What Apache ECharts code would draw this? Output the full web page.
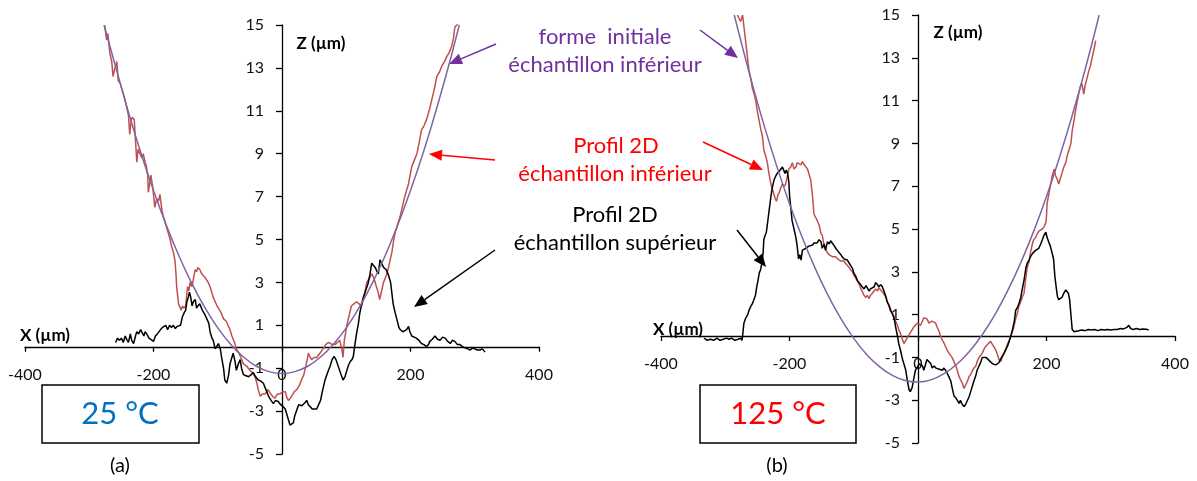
<!DOCTYPE html>
<html>
<head>
<meta charset="utf-8">
<script src="https://cdn.jsdelivr.net/npm/echarts@6/dist/echarts.min.js"></script>
<style>html,body{margin:0;padding:0;background:#fff;}#c{width:1197px;height:481px;}</style>
</head>
<body>
<div id="c"></div>
<script>
// ---------- data (x in µm, z in µm) ----------
const xTicks = [-400, -200, 0, 200, 400];
const zTicks = [-5, -3, -1, 1, 3, 5, 7, 9, 11, 13, 15];

// (a) 25 °C
const leftInitial = [[-277,15.0],[-260,13.17],[-240,11.04],[-220,9.07],[-200,7.28],[-180,5.66],[-160,4.21],[-140,2.93],[-120,1.82],[-100,0.88],[-80,0.12],[-60,-0.48],[-40,-0.91],[-20,-1.16],[0,-1.25],[20,-1.16],[40,-0.91],[60,-0.48],[80,0.12],[100,0.88],[120,1.82],[140,2.93],[160,4.21],[180,5.66],[200,7.28],[220,9.07],[240,11.04],[260,13.17],[276,15.0]];
const leftLower = [[-276,15.0],[-273,14.3],[-271,14.6],[-268,13.7],[-265,13.3],[-263,12.6],[-260,13.0],[-257,13.3],[-255,12.4],[-252,12.3],[-250,12.1],[-246,11.7],[-242,11.2],[-239,10.8],[-237,9.9],[-235,10.5],[-233,10.7],[-230,10.6],[-228,9.6],[-226,8.6],[-224,9.2],[-221,9.2],[-218,8.8],[-216,9.0],[-213,8.6],[-211,8.4],[-209,8.0],[-208,7.2],[-206,7.6],[-204,8.0],[-201,7.4],[-198,6.5],[-195,6.9],[-192,6.8],[-190,7.1],[-187,6.4],[-185,6.1],[-182,5.8],[-179,5.5],[-177,5.3],[-174,5.0],[-172,4.7],[-169,4.4],[-166.5,4.0],[-165,3.4],[-164,2.8],[-161,2.0],[-157,1.7],[-155,1.9],[-153,1.8],[-150,1.9],[-147,2.8],[-145,2.6],[-143,3.0],[-140,2.8],[-137,3.3],[-135,3.6],[-133,3.5],[-131,3.7],[-128,3.6],[-125,3.4],[-122,3.3],[-119,3.2],[-115,3.0],[-112,2.8],[-109,2.5],[-107,2.3],[-104,2.1],[-101,1.9],[-99,1.8],[-95,1.6],[-91,1.3],[-87,1.2],[-84,1.0],[-81,0.8],[-78,0.5],[-74,0.2],[-71,-0.1],[-67,-0.3],[-64,-0.5],[-60,-0.8],[-55,-0.9],[-50,-1.1],[-46,-1.2],[-42,-1.4],[-39,-1.7],[-37,-2.0],[-34,-2.3],[-30,-2.2],[-26,-2.2],[-22,-2.0],[-19,-2.0],[-15,-2.3],[-11,-2.4],[-7,-2.2],[-3,-2.2],[1,-2.1],[5,-2.1],[8,-2.4],[10,-2.5],[13,-2.4],[15,-2.3],[19,-2.1],[23,-2.0],[27,-1.8],[31,-1.5],[34,-1.3],[37,-0.9],[40,-0.5],[41,-0.3],[44,-0.5],[46,-0.6],[50,-0.5],[54,-0.5],[59,-0.3],[64,-0.1],[68,0.1],[72,0.2],[75,0.2],[79,0.1],[83,0.1],[86,0.2],[90,0.3],[93,-0.1],[95,-0.5],[97,0.3],[101,1.0],[104,1.4],[108,1.9],[112,2.0],[116,2.1],[120,2.0],[124,1.9],[128,2.4],[132,3.0],[136,3.2],[140,3.4],[144,3.1],[147,2.8],[150,2.5],[152,2.2],[155,2.6],[158,3.0],[162,3.3],[165,3.6],[168,4.0],[171,4.4],[174,5.0],[176,5.3],[180,5.7],[184,6.1],[188,6.6],[191,7.0],[194,7.3],[197,7.6],[200,8.1],[202,8.4],[206,8.7],[210,9.0],[214,9.6],[217,10.1],[221,10.3],[225,10.6],[229,11.0],[233,11.5],[237,12.0],[241,12.6],[245,12.8],[249,13.1],[253,13.3],[256,13.5],[260,13.7],[264,14.0],[267,14.4],[269,14.9],[272,15.0],[275,15.1]];
const leftUpper = [[-259,0.2],[-256,0.4],[-253,0.3],[-250,0.4],[-247,0.2],[-244,0.5],[-241,0.3],[-239,0.2],[-236,0.6],[-234,0.3],[-231,0.15],[-228,0.5],[-226,0.7],[-223,0.6],[-220,0.8],[-218,0.75],[-215,0.5],[-213,0.7],[-210.6,0.6],[-207,0.4],[-204,0.35],[-200,0.25],[-197,0.5],[-194,0.6],[-192,0.6],[-189,0.8],[-186,0.9],[-184,0.9],[-181,1.0],[-178,0.8],[-175,1.0],[-172,0.9],[-169,1.0],[-166,0.85],[-163,0.95],[-160,0.9],[-158,1.0],[-155,1.4],[-152,1.6],[-150,1.7],[-148,2.1],[-146,2.3],[-144,2.55],[-142,2.3],[-140,1.9],[-138,2.1],[-135,2.2],[-133,1.8],[-131,1.9],[-128,2.0],[-126,2.0],[-124,1.7],[-122,1.6],[-120,1.5],[-117,1.5],[-114,1.1],[-112,0.7],[-109,0.4],[-107,0.3],[-104,-0.1],[-101,-0.1],[-99,0.15],[-96,-0.1],[-94,-0.5],[-91,-1.0],[-89,-1.55],[-86,-1.7],[-83,-1.3],[-81,-0.8],[-78,-0.5],[-76,-0.3],[-73,-0.7],[-71,-1.1],[-68,-0.8],[-65,-0.6],[-63,-1.0],[-60,-1.3],[-56,-1.35],[-52,-1.4],[-48,-1.3],[-45,-1.2],[-41,-1.4],[-37,-1.55],[-33,-1.6],[-29,-1.7],[-25,-2.0],[-21,-2.3],[-17,-2.5],[-13.5,-2.65],[-10,-2.5],[-6,-2.55],[-2,-2.7],[2,-2.8],[5,-2.9],[7,-3.1],[10,-3.4],[12.5,-3.65],[15,-3.7],[17.6,-3.55],[20,-3.2],[23,-2.95],[26,-2.7],[28,-2.65],[31,-2.75],[33,-2.8],[36,-2.6],[38.5,-2.5],[41,-2.7],[44,-2.8],[47,-2.9],[50,-2.95],[54,-2.9],[57,-2.95],[60,-2.5],[62,-2.2],[65,-1.8],[67,-1.55],[71,-1.2],[75,-0.9],[78,-0.6],[81,-0.45],[84,-0.6],[88,-0.95],[92,-1.3],[95,-1.55],[98,-1.4],[101,-1.1],[103,-0.9],[106,-0.7],[109,-0.6],[111,-0.45],[114,0.2],[116,0.6],[119,1.1],[121,1.55],[124,2.0],[126.5,2.3],[130,2.6],[134,2.95],[137,3.4],[139.6,3.9],[142,3.8],[145,3.7],[148,3.5],[150,3.4],[152.5,4.05],[155,3.9],[158,3.7],[162,3.6],[165,3.4],[169,3.0],[171,2.5],[173,2.0],[176,1.6],[179,1.25],[182,0.9],[184,0.8],[188,0.7],[191,0.7],[194,0.8],[197,0.95],[199,0.7],[202,0.5],[205,0.45],[209,0.4],[213,0.3],[217,0.15],[221,0.1],[225,0.0],[228,0.1],[230,0.25],[234,0.35],[238,0.5],[242,0.35],[246,0.3],[250,0.45],[254,0.4],[258,0.25],[262,0.15],[265,0.3],[269,0.25],[273,0.1],[277,0.1],[281,0.0],[285,-0.05],[289,-0.1],[293,-0.15],[297,-0.05],[300,-0.1],[304,-0.15],[308,-0.15],[312,-0.1],[316,-0.25]];

// (b) 125 °C
const rightInitial = [[-286,15.0],[-260,12.0],[-240,9.89],[-220,7.95],[-200,6.18],[-180,4.59],[-160,3.16],[-140,1.90],[-120,0.81],[-100,-0.11],[-80,-0.86],[-60,-1.43],[-40,-1.84],[-20,-2.08],[0,-2.15],[20,-2.05],[40,-1.77],[60,-1.33],[80,-0.72],[100,0.06],[120,1.01],[140,2.14],[160,3.43],[180,4.89],[200,6.52],[220,8.33],[240,10.30],[260,12.44],[282,15.0]];
const rightLower = [[-281,15.0],[-278,14.8],[-276,14.7],[-273,15.0],[-271,15.0],[-268,13.7],[-265,12.9],[-263,12.4],[-260,12.0],[-258,11.6],[-255,11.3],[-252.6,11.0],[-250,10.5],[-247.5,10.1],[-245,9.7],[-242,9.3],[-240,8.7],[-237,8.4],[-234.5,8.1],[-232,7.6],[-229,7.1],[-226,6.8],[-224,6.6],[-222,6.4],[-220,6.3],[-218,6.6],[-216,6.7],[-214,6.9],[-211,7.1],[-208,7.0],[-206,7.1],[-203,7.5],[-201,7.8],[-198,7.9],[-195.6,8.1],[-193,7.8],[-190,7.9],[-188,8.1],[-185,8.1],[-182,8.0],[-180,8.15],[-177,8.0],[-175,7.95],[-172,7.8],[-169,7.5],[-167,7.3],[-164,6.5],[-162,5.7],[-159,5.7],[-157,5.4],[-154,5.2],[-151,4.8],[-149,4.7],[-146,4.2],[-143,4.2],[-141,3.9],[-138.5,3.8],[-136,3.8],[-133,3.7],[-131,3.7],[-128,3.7],[-125,3.6],[-123,3.55],[-120,3.5],[-118,3.45],[-115,3.5],[-113,3.4],[-110,3.3],[-107,3.2],[-105,3.1],[-102,3.0],[-100,2.85],[-97,2.7],[-95,2.6],[-92,2.45],[-89,2.2],[-87,2.1],[-84,1.9],[-81,1.8],[-79,1.9],[-76,1.75],[-74,1.9],[-71,2.0],[-68.5,2.0],[-66,2.2],[-63,2.1],[-61,2.25],[-58,2.2],[-55,2.05],[-53,2.0],[-50,1.8],[-48,1.6],[-45,1.45],[-42,1.2],[-40,1.05],[-37,0.9],[-35,0.7],[-32,0.5],[-30,0.3],[-27,0.1],[-25,-0.1],[-22,-0.35],[-19,-0.2],[-17,-0.1],[-14,-0.05],[-11,0.2],[-9,0.3],[-6,0.45],[-4,0.4],[-1,0.6],[1.6,0.6],[4,0.5],[7,0.7],[9,0.85],[12,0.9],[14,0.8],[17,0.6],[20,0.6],[22,0.7],[25,0.65],[27.5,0.6],[30,0.4],[33,0.2],[35,0.0],[38,-0.2],[40,-0.3],[43,-0.5],[46,-0.7],[48,-0.8],[51,-0.85],[53,-1.0],[56,-1.2],[59,-1.4],[61,-1.6],[64,-1.9],[66.5,-2.06],[69,-2.2],[71.6,-2.45],[74,-2.3],[77,-2.1],[79.4,-1.9],[82,-1.8],[85,-1.6],[87,-1.5],[90,-1.4],[92,-1.2],[95,-1.0],[97.6,-0.9],[100,-0.8],[103,-0.6],[105,-0.5],[108,-0.4],[110,-0.35],[113,-0.25],[116,-0.4],[118,-0.5],[121,-0.65],[124,-0.9],[126,-1.1],[128.7,-1.2],[131,-1.0],[134,-0.8],[137,-0.6],[139,-0.4],[142,-0.2],[144,0.0],[147,0.2],[149,0.4],[152,0.8],[155,1.1],[157,1.4],[160,1.6],[162,1.8],[165,2.0],[167,2.5],[170,3.2],[173,3.5],[175,3.9],[178,4.3],[180,4.5],[183,4.6],[186,4.8],[188,4.9],[191,4.95],[193.5,5.0],[196,5.1],[199,5.3],[200,5.6],[201,6.2],[204,6.7],[206.5,7.1],[209,7.5],[212,7.8],[214,7.5],[217,7.3],[219,7.1],[222,7.4],[224,7.6],[227,7.9],[230,8.1],[232,8.4],[235,8.7],[238,9.0],[240,9.6],[243,10.1],[245,10.5],[248,11.0],[250,11.3],[253,11.7],[255,11.8],[258,11.3],[260,11.7],[263.5,12.1],[266,12.4],[269,12.7],[271,13.0],[274,13.4],[276.6,13.8]];
const rightUpper = [[-333,-0.1],[-328,-0.2],[-323,-0.15],[-318,-0.2],[-313,-0.1],[-308,-0.2],[-303,-0.15],[-298,-0.1],[-294,-0.15],[-290,-0.1],[-285,-0.2],[-280,-0.15],[-276,-0.1],[-274,-0.2],[-273,0.0],[-271,0.6],[-268,0.85],[-265,1.0],[-263,1.2],[-260,1.4],[-258,1.5],[-256,1.65],[-253,1.9],[-251,2.3],[-249,2.6],[-247,2.95],[-245,3.1],[-243,3.4],[-241,3.9],[-240,4.5],[-238,4.7],[-236,4.85],[-234.5,5.2],[-232,5.8],[-229,6.5],[-227,6.9],[-224,7.3],[-221,7.5],[-219,7.6],[-216,7.7],[-214,7.75],[-211,7.9],[-209,7.85],[-207,7.6],[-205,7.75],[-203,7.6],[-201,7.2],[-200,6.6],[-198,6.0],[-196,5.4],[-193,5.0],[-190,4.6],[-188,4.2],[-186,3.6],[-184,3.8],[-182,3.55],[-180,4.0],[-177,4.0],[-175,4.1],[-172,4.15],[-170,4.2],[-167,4.2],[-164,4.25],[-162,4.35],[-159,4.3],[-157,4.35],[-154,4.5],[-151,4.4],[-149,4.1],[-146,4.3],[-144,4.0],[-141,4.4],[-138,4.3],[-136,4.45],[-133,4.4],[-130,4.2],[-128,4.1],[-125.6,4.0],[-123,3.9],[-120,3.8],[-118,3.7],[-115,3.6],[-112,3.55],[-110,3.55],[-107,3.4],[-105,3.3],[-102,3.16],[-100,2.95],[-97,2.8],[-94.5,2.6],[-92,2.5],[-89,2.4],[-87,2.3],[-84,2.2],[-81,2.35],[-79,2.3],[-76,2.1],[-74,2.2],[-71,2.15],[-68,2.3],[-66,2.5],[-63,2.4],[-61,2.3],[-58,2.4],[-55.6,2.3],[-53,2.1],[-50,1.85],[-48,1.6],[-45,1.4],[-43,1.2],[-40,1.05],[-37,0.8],[-35,0.45],[-32,0.0],[-30,-0.35],[-27,-0.7],[-24,-1.1],[-22,-1.3],[-19,-1.6],[-17,-2.0],[-14,-2.5],[-12,-2.6],[-9,-2.4],[-6,-1.9],[-4,-1.6],[-1,-1.45],[2,-1.3],[4,-1.3],[7,-1.4],[9,-1.6],[12,-1.3],[14,-1.1],[17,-1.1],[20,-1.3],[22,-1.5],[25,-1.4],[28,-1.5],[30,-1.45],[33,-1.55],[35,-1.5],[38,-1.6],[40,-1.5],[43,-1.6],[45.6,-1.75],[48,-1.9],[51,-2.1],[53,-2.4],[56,-2.8],[59,-2.9],[61,-3.0],[64,-3.15],[66,-3.0],[69,-3.2],[71.6,-3.3],[74,-3.2],[77,-3.0],[79.4,-2.85],[82,-2.6],[85,-2.3],[87,-2.1],[90,-1.85],[92,-1.6],[95,-1.4],[98,-1.2],[100,-1.0],[103,-0.95],[106,-1.0],[108,-1.05],[111,-1.15],[113,-1.2],[116,-1.3],[118,-1.3],[121,-1.35],[123,-1.35],[126,-1.25],[128,-1.1],[131,-0.95],[134,-0.8],[137,-0.6],[139,-0.5],[142,-0.25],[145,0.05],[147,0.3],[150,0.7],[152,1.2],[155,1.35],[157,1.5],[160,1.8],[162,2.15],[165,2.6],[168,3.2],[170,3.4],[173,3.55],[175,3.7],[178,3.85],[180,3.9],[183,4.0],[186,4.0],[188,4.1],[191,4.3],[193.5,4.5],[196,4.7],[199,4.85],[201,4.6],[204,4.35],[206,4.2],[209,4.25],[211,3.6],[213,2.8],[215,2.3],[217,1.85],[219,1.7],[222,1.7],[224,1.8],[227,2.0],[230,2.15],[232,2.15],[234,2.0],[236,1.7],[238,1.0],[240,0.3],[243,0.2],[245,0.2],[250,0.25],[255,0.28],[260,0.25],[265,0.3],[270,0.28],[275,0.3],[280,0.25],[285,0.3],[290,0.28],[295,0.3],[300,0.28],[305,0.3],[310,0.3],[315,0.35],[320,0.33],[325,0.4],[328,0.5],[331,0.35],[335,0.3],[340,0.35],[345,0.3],[350,0.33],[355,0.32],[359,0.28]];

// ---------- chart ----------
const FONT = 'Lato, "Open Sans", sans-serif';
const X_MIN = -400, X_MAX = 400, Z_MIN = -5, Z_MAX = 15;
const grids = [
  {left: 25, top: 25, width: 514, height: 429},
  {left: 661, top: 15, width: 514, height: 428}
];
const chart = echarts.init(document.getElementById('c'), null, {renderer: 'canvas'});

// shift the axes so they cross at (0, 0), like the original
function xAxisDef(gi) {
  const g = grids[gi];
  const off = -g.height * (0 - Z_MIN) / (Z_MAX - Z_MIN);
  return {
    type: 'value', gridIndex: gi, min: X_MIN, max: X_MAX, interval: 200,
    position: 'bottom', offset: off,
    axisLine: {onZero: false, lineStyle: {color: '#000', width: 1.3}},
    axisTick: {show: true, length: 5, lineStyle: {color: '#000', width: 1.3}},
    axisLabel: {color: '#111', fontSize: 16, fontFamily: FONT, margin: 20},
    splitLine: {show: false}
  };
}
function yAxisDef(gi) {
  const g = grids[gi];
  const off = -g.width * (0 - X_MIN) / (X_MAX - X_MIN);
  return {
    type: 'value', gridIndex: gi, min: Z_MIN, max: Z_MAX, interval: 1,
    position: 'left', offset: off,
    axisLine: {onZero: false, lineStyle: {color: '#000', width: 1.3}},
    axisTick: {show: true, length: 6, lineStyle: {color: '#000', width: 1.3}, customValues: zTicks},
    axisLabel: {color: '#111', fontSize: 16, fontFamily: FONT, margin: 18, customValues: zTicks},
    splitLine: {show: false}
  };
}
function lineSeries(data, gi, color, smooth) {
  return {
    type: 'line', xAxisIndex: gi, yAxisIndex: gi, data: data,
    showSymbol: false, symbol: 'none', smooth: smooth ? 0.4 : false,
    lineStyle: {color: color, width: 1.5}, itemStyle: {color: color},
    clip: true, silent: true
  };
}
function arrow(x1, y1, x2, y2, color) {
  const dx = x2 - x1, dy = y2 - y1, L = Math.sqrt(dx*dx + dy*dy);
  const ux = dx / L, uy = dy / L, hl = 13, hw = 5.5;
  const bx = x2 - ux*hl, by = y2 - uy*hl;
  return [
    {type: 'line', shape: {x1: x1, y1: y1, x2: bx, y2: by}, style: {stroke: color, lineWidth: 1.5}},
    {type: 'polygon', shape: {points: [[x2, y2], [bx - uy*hw, by + ux*hw], [bx + uy*hw, by - ux*hw]]}, style: {fill: color}}
  ];
}
function txt(x, y, s, color, size, bold) {
  return {type: 'text', x: x, y: y, style: {text: s, fill: color, fontSize: size, fontFamily: FONT,
    fontWeight: bold ? 'bold' : 'normal', align: 'center', verticalAlign: 'middle'}};
}

const PURPLE = '#7030A0', RED = '#FF0000';
const graphics = [].concat(
  arrow(496, 44, 449, 64, PURPLE),
  arrow(700, 30, 738, 58, PURPLE),
  arrow(495, 160, 429, 154, RED),
  arrow(703, 142, 763, 170, RED),
  arrow(495, 250, 414, 307, '#000'),
  arrow(737, 230, 766, 267, '#000'),
  [
    txt(605, 37, 'forme  initiale', PURPLE, 22),
    txt(605, 65, 'échantillon inférieur', PURPLE, 22),
    txt(616, 146, 'Profil 2D', RED, 22),
    txt(615, 174, 'échantillon inférieur', RED, 22),
    txt(615, 215, 'Profil 2D', '#000', 22),
    txt(615, 243, 'échantillon supérieur', '#000', 22),
    txt(45, 336, 'X (µm)', '#000', 17, true),
    txt(321, 44, 'Z (µm)', '#000', 17, true),
    txt(678, 330, 'X (µm)', '#000', 17, true),
    txt(958, 33, 'Z (µm)', '#000', 17, true),
    {type: 'rect', shape: {x: 42, y: 385, width: 157, height: 58}, style: {fill: '#fff', stroke: '#000', lineWidth: 1.5}},
    {type: 'rect', shape: {x: 700, y: 385, width: 156, height: 58}, style: {fill: '#fff', stroke: '#000', lineWidth: 1.5}},
    txt(120, 414, '25 °C', '#0070C0', 31),
    txt(778, 414, '125 °C', '#FF0000', 31),
    txt(120, 466, '(a)', '#000', 20),
    txt(777, 466, '(b)', '#000', 20)
  ]
);

chart.setOption({
  animation: false,
  backgroundColor: '#fff',
  textStyle: {fontFamily: FONT},
  grid: grids.map(g => Object.assign({outerBoundsMode: 'none', containLabel: false}, g)),
  xAxis: [xAxisDef(0), xAxisDef(1)],
  yAxis: [yAxisDef(0), yAxisDef(1)],
  series: [
    lineSeries(leftLower, 0, '#C0504D', false),
    lineSeries(leftUpper, 0, '#000000', false),
    lineSeries(leftInitial, 0, '#8064A2', true),
    lineSeries(rightLower, 1, '#C0504D', false),
    lineSeries(rightUpper, 1, '#000000', false),
    lineSeries(rightInitial, 1, '#8064A2', true)
  ],
  graphic: graphics
});
</script>
</body>
</html>
